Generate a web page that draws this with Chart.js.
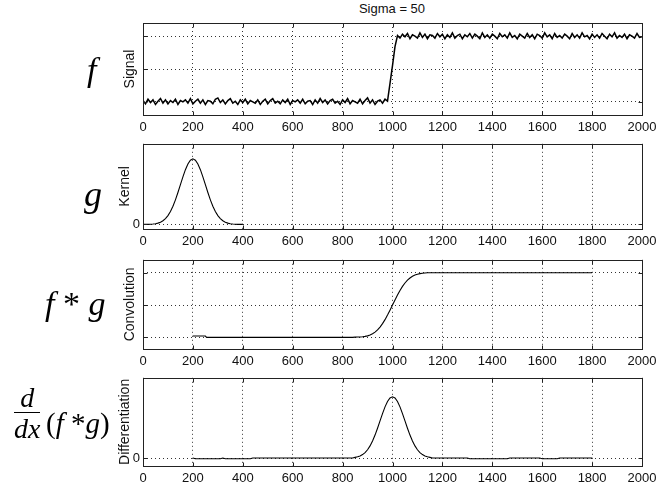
<!DOCTYPE html>
<html>
<head>
<meta charset="utf-8">
<title>Sigma = 50</title>
<script src="https://cdn.jsdelivr.net/npm/chart.js@4.4.0/dist/chart.umd.min.js"></script>
<style>
  body { margin: 0; background: #fff; }
  #wrap { position: relative; width: 671px; height: 493px; overflow: hidden; background: #fff; }
  canvas { position: absolute; left: 0; }
  .math { position: absolute; font-family: "Liberation Serif", "Times New Roman", serif; color: #000; line-height: 1; white-space: nowrap; }
  .sigma { position: absolute; left: 292px; width: 200px; top: 1px; text-align: center; font: 13px "Liberation Sans", Arial, sans-serif; color: #111; }
</style>
</head>
<body>
<div id="wrap">
  <div class="sigma">Sigma = 50</div>
  <canvas id="signalChart" width="671" height="139" style="top:0px"></canvas>
  <canvas id="kernelChart" width="671" height="120" style="top:133px"></canvas>
  <canvas id="convChart" width="671" height="124" style="top:249px"></canvas>
  <canvas id="diffChart" width="671" height="123" style="top:367px"></canvas>

  <div class="math" style="left:87px; top:53px; font-size:34px"><i>f</i></div>
  <div class="math" style="left:84px; top:176px; font-size:36px"><i>g</i></div>
  <div class="math" style="left:45px; top:287px; font-size:34px"><i>f</i> * <i>g</i></div>
  <div class="math" style="left:14px; top:384px; font-size:28px; text-align:center">
    <div style="padding:0 3px; border-bottom:1.5px solid #000"><i>d</i></div>
    <div style="padding-top:2px"><i>dx</i></div>
  </div>
  <div class="math" style="left:46px; top:409px; font-size:29px">(<i>f</i> *<i>g</i>)</div>
</div>

<script>
// x axis (same for every panel)
const xTicks = [0, 200, 400, 600, 800, 1000, 1200, 1400, 1600, 1800, 2000];

// Signal: one sample every 10 units from 0 to 2000
const signalStep = 10;
const signalValues = [
    0.02, -0.03, 0.04, -0.01, 0.03, -0.04, 0.01, 0.05, -0.02, 0.03,
    -0.03, 0.02, -0.01, 0.04, -0.04, 0.02, 0.00, 0.03, -0.02, 0.05,
    -0.03, 0.01, 0.04, -0.02, 0.03, -0.04, 0.02, 0.01, -0.03, 0.04,
    0.06, -0.01, 0.03, -0.03, 0.02, 0.05, -0.02, 0.01, -0.04, 0.03,
    -0.01, 0.04, -0.03, 0.02, 0.00, -0.02, 0.03, -0.04, 0.01, 0.04,
    -0.03, 0.02, 0.05, -0.02, 0.01, -0.03, 0.03, -0.01, 0.04, -0.04,
    0.02, 0.00, 0.03, -0.02, 0.04, -0.03, 0.01, 0.02, -0.04, 0.03,
    -0.02, 0.05, -0.01, 0.03, -0.03, 0.02, 0.04, -0.02, 0.01, -0.04,
    0.03, -0.01, 0.05, -0.03, 0.02, 0.00, -0.02, 0.04, -0.03, 0.02,
    0.06, -0.02, 0.03, -0.04, 0.01, 0.03, -0.02, 0.04,
    0.01, 0.28, 0.55, 0.84,
    1.01, 0.97, 1.03, 0.99, 1.04, 0.96, 1.02, 1.00, 0.97, 1.05,
    0.98, 1.03, 0.96, 1.02, 1.01, 0.97, 1.04, 0.99, 1.03, 0.96,
    1.02, 0.98, 1.05, 0.97, 1.01, 1.03, 0.96, 1.02, 0.99, 1.04,
    0.97, 1.03, 1.00, 0.96, 1.05, 0.98, 1.02, 0.97, 1.03, 1.00,
    0.96, 1.04, 0.99, 1.02, 0.97, 1.05, 0.98, 1.01, 0.96, 1.03,
    1.00, 0.97, 1.04, 0.98, 1.02, 0.96, 1.03, 1.01, 0.97, 1.05,
    0.99, 1.02, 0.96, 1.04, 0.98, 1.01, 0.97, 1.03, 1.00, 0.96,
    1.04, 0.98, 1.02, 0.97, 1.05, 0.99, 1.01, 0.96, 1.03, 0.98,
    1.02, 0.97, 1.04, 1.00, 0.96, 1.03, 0.99, 1.05, 0.97, 1.01,
    0.98, 1.03, 0.96, 1.02, 1.00, 0.97, 1.04, 0.98, 0.99
];

// Kernel: sampled every 10 units from 0 to 400
const kernelStep = 10;
const kernelValues = [
    0.000, 0.001, 0.001, 0.003, 0.006, 0.011, 0.020, 0.034, 0.056, 0.089,
    0.135, 0.198, 0.278, 0.375, 0.487, 0.607, 0.726, 0.835, 0.923, 0.980,
    1.000, 0.980, 0.923, 0.835, 0.726, 0.607, 0.487, 0.375, 0.278, 0.198,
    0.135, 0.089, 0.056, 0.034, 0.020, 0.011, 0.006, 0.003, 0.001, 0.001,
    0.000
];

// Convolution
const convX = [200, 250, 255, 840, 850, 860, 870, 880, 890, 900, 910, 920, 930, 940,
    950, 960, 970, 980, 990, 1000, 1010, 1020, 1030, 1040, 1050, 1060, 1070, 1080,
    1090, 1100, 1110, 1120, 1130, 1140, 1800];
const convY = [0.02, 0.02, 0, 0, 0.003, 0.005, 0.006, 0.010, 0.015, 0.023, 0.036, 0.055, 0.081, 0.115,
    0.159, 0.212, 0.274, 0.345, 0.421, 0.500, 0.579, 0.655, 0.726, 0.788, 0.841, 0.885, 0.919, 0.945,
    0.964, 0.977, 0.986, 0.992, 0.996, 1.0, 1.0];

// Differentiation
const diffX = [200, 210, 310, 320, 330, 430, 440, 840,
    850, 860, 870, 880, 890, 900, 910, 920, 930, 940, 950, 960, 970, 980, 990, 1000,
    1010, 1020, 1030, 1040, 1050, 1060, 1070, 1080, 1090, 1100, 1110, 1120, 1130, 1140, 1150, 1160,
    1300, 1310, 1460, 1470, 1590, 1600, 1660, 1670, 1800];
const diffY = [0, -0.012, -0.012, 0, -0.012, -0.012, 0, 0,
    0.011, 0.020, 0.034, 0.056, 0.089, 0.135, 0.198, 0.278, 0.375, 0.487, 0.607, 0.726, 0.835, 0.923, 0.980, 1.000,
    0.980, 0.923, 0.835, 0.726, 0.607, 0.487, 0.375, 0.278, 0.198, 0.135, 0.089, 0.056, 0.034, 0.020, 0.011, 0,
    0, -0.012, -0.012, 0, 0, -0.012, -0.012, 0, 0];

// y ticks per panel
const signalYTicks = [0, 0.5, 1];
const kernelYTicks = [0];
const convYTicks = [0, 0.5, 1];
const diffYTicks = [0];

const axisFont = { family: "'Liberation Sans', Arial, sans-serif", size: 13 };
const titleFont = { family: "'Liberation Sans', Arial, sans-serif", size: 14 };
const gridColor = '#333';

// Box around plot area plus short inward tick marks, like MATLAB axes
const framePlugin = {
    id: 'frame',
    afterDraw(chart) {
        const ctx = chart.ctx;
        const a = chart.chartArea;
        const l = Math.round(a.left) + 0.5, r = Math.round(a.right) + 0.5;
        const t = Math.round(a.top) + 0.5, b = Math.round(a.bottom) + 0.5;
        ctx.save();
        ctx.strokeStyle = '#222';
        ctx.lineWidth = 1;
        ctx.strokeRect(l, t, r - l, b - t);
        ctx.beginPath();
        chart.scales.x.ticks.forEach(function(tk) {
            const px = Math.round(chart.scales.x.getPixelForValue(tk.value)) + 0.5;
            ctx.moveTo(px, b); ctx.lineTo(px, b - 4);
            ctx.moveTo(px, t); ctx.lineTo(px, t + 4);
        });
        chart.scales.y.ticks.forEach(function(tk) {
            const py = Math.round(chart.scales.y.getPixelForValue(tk.value)) + 0.5;
            ctx.moveTo(l, py); ctx.lineTo(l + 4, py);
            ctx.moveTo(r, py); ctx.lineTo(r - 4, py);
        });
        ctx.stroke();
        ctx.restore();
    }
};

function makePanel(id, points, cfg) {
    const canvas = document.getElementById(id);
    if (!canvas) {
        console.warn("Canvas element with ID '" + id + "' not found.");
        return null;
    }
    return new Chart(canvas.getContext('2d'), {
        type: 'line',
        data: {
            datasets: [{
                data: points,
                borderColor: '#000',
                borderWidth: cfg.lineWidth,
                pointRadius: 0,
                tension: 0,
                fill: false
            }]
        },
        options: {
            responsive: false,
            animation: false,
            events: [],
            layout: { padding: { left: 143 - cfg.yWidth, right: 29, top: cfg.padTop, bottom: 2 } },
            plugins: { legend: { display: false }, tooltip: { enabled: false } },
            scales: {
                x: {
                    type: 'linear',
                    min: 0,
                    max: 2000,
                    afterBuildTicks: function(scale) { scale.ticks = xTicks.map(v => ({ value: v })); },
                    afterFit: function(scale) { scale.height = 22; },
                    border: { display: false, dash: [1, 3] },
                    grid: { color: gridColor, lineWidth: 1, drawTicks: false },
                    ticks: {
                        font: axisFont, color: '#111', padding: 5, autoSkip: false, maxRotation: 0,
                        callback: function(v) { return String(v); }
                    }
                },
                y: {
                    type: 'linear',
                    min: cfg.yMin,
                    max: cfg.yMax,
                    afterBuildTicks: function(scale) { scale.ticks = cfg.yTicks.map(v => ({ value: v })); },
                    afterFit: function(scale) { scale.width = cfg.yWidth; },
                    border: { display: false, dash: [1, 3] },
                    grid: { color: gridColor, lineWidth: 1, drawTicks: false },
                    ticks: {
                        font: axisFont, color: '#111', padding: 3,
                        callback: function(v) { return cfg.showYLabels ? String(v) : ''; }
                    },
                    title: { display: true, text: cfg.title, font: titleFont, color: '#111', padding: { top: 0, bottom: 0 } }
                }
            }
        },
        plugins: [framePlugin]
    });
}

document.addEventListener('DOMContentLoaded', function() {
    const signalPoints = signalValues.map((v, i) => ({ x: i * signalStep, y: v }));
    const kernelPoints = kernelValues.map((v, i) => ({ x: i * kernelStep, y: v }));
    const convPoints = convX.map((x, i) => ({ x: x, y: convY[i] }));
    const diffPoints = diffX.map((x, i) => ({ x: x, y: diffY[i] }));

    makePanel('signalChart', signalPoints, {
        title: 'Signal', yMin: -0.2, yMax: 1.2, yTicks: signalYTicks, showYLabels: false,
        yWidth: 21, padTop: 23, lineWidth: 1.5
    });
    makePanel('kernelChart', kernelPoints, {
        title: 'Kernel', yMin: -0.07, yMax: 1.23, yTicks: kernelYTicks, showYLabels: true,
        yWidth: 26, padTop: 10, lineWidth: 1.1
    });
    makePanel('convChart', convPoints, {
        title: 'Convolution', yMin: -0.18, yMax: 1.2, yTicks: convYTicks, showYLabels: false,
        yWidth: 21, padTop: 10, lineWidth: 1.1
    });
    makePanel('diffChart', diffPoints, {
        title: 'Differentiation', yMin: -0.13, yMax: 1.31, yTicks: diffYTicks, showYLabels: true,
        yWidth: 26, padTop: 10, lineWidth: 1.1
    });
});
</script>
</body>
</html>
